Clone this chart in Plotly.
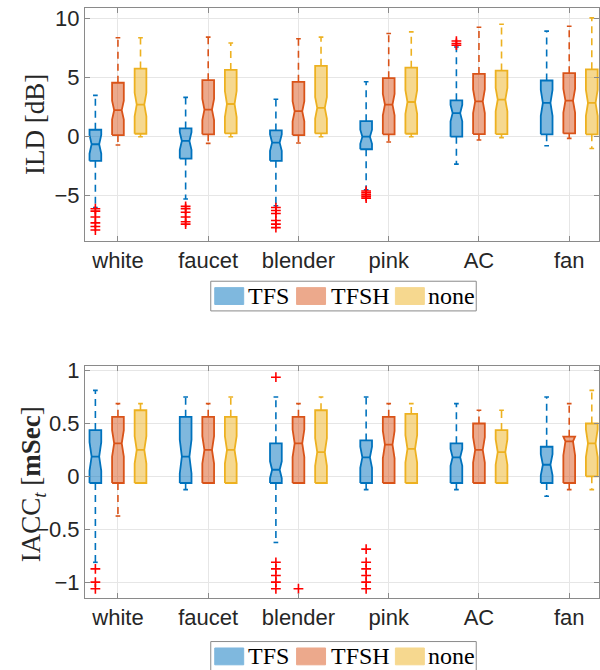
import plotly.graph_objects as go

categories = ["white", "faucet", "blender", "pink", "AC", "fan"]
series_names = ["TFS", "TFSH", "none"]

# ---------------- ILD [dB] (rows: TFS, TFSH, none) ----------------
ild_whisker_low = [
    [-6.0, -5.27, -5.85, -4.5, -2.32, -0.76],
    [-0.7, -0.56, -0.53, -0.45, -0.28, -0.14],
    [0.0, 0.0, 0.0, 0.0, -0.08, -1.0],
]
ild_q1 = [
    [-2.04, -1.85, -2.04, -1.06, 0.0, 0.2],
    [0.14, 0.2, 0.14, 0.2, 0.22, 0.28],
    [0.25, 0.28, 0.28, 0.25, 0.22, 0.2],
]
ild_median = [
    [-0.64, -0.36, -0.5, 0.0, 2.0, 2.86],
    [2.25, 2.3, 2.16, 2.72, 3.0, 3.05],
    [2.72, 2.77, 2.44, 2.94, 3.14, 2.86],
]
ild_q3 = [
    [0.59, 0.7, 0.53, 1.32, 3.08, 4.76],
    [4.57, 4.79, 4.65, 4.96, 5.32, 5.38],
    [5.77, 5.66, 6.0, 5.85, 5.6, 5.71],
]
ild_whisker_high = [
    [3.5, 3.33, 3.17, 4.65, 7.6, 8.94],
    [8.38, 8.43, 8.29, 8.74, 9.27, 9.36],
    [8.38, 7.93, 8.43, 8.88, 9.52, 10.06],
]
ild_notch = [
    [0.8, 0.75, 0.7, 0.6, 0.7, 1.1],
    [0.8, 0.9, 0.85, 0.9, 1.0, 1.0],
    [1.0, 1.1, 0.9, 1.0, 1.0, 1.1],
]
ild_outliers_tfs = [
    [-6.1, -6.3, -6.8, -7.3, -7.6, -7.9],
    [-5.9, -6.1, -6.4, -6.8, -7.2, -7.4],
    [-6.0, -6.25, -6.5, -7.1, -7.4, -7.7],
    [-4.6, -4.75, -4.9, -5.05, -5.2],
    [7.75, 7.9, 8.1],
    [],
]
ild_outliers_tfsh = [[], [], [], [], [], []]

# ---------------- IACC_t [mSec] (rows: TFS, TFSH, none) ----------------
iacc_whisker_low = [
    [-0.8125, -0.125, -0.625, -0.125, -0.125, -0.1875],
    [-0.375, -0.0625, -0.0625, -0.0625, -0.0625, -0.125],
    [-0.0625, -0.0625, -0.0625, -0.0625, -0.0625, -0.125],
]
iacc_q1 = [
    [-0.0625, -0.0625, -0.0625, -0.0625, -0.0625, -0.0625],
    [-0.0625, -0.0625, -0.0625, -0.0625, -0.0625, -0.0625],
    [-0.0625, -0.0625, -0.0625, -0.0625, -0.0625, 0.0],
]
iacc_median = [
    [0.1875, 0.1875, 0.0625, 0.18, 0.18, 0.11],
    [0.3125, 0.25, 0.3125, 0.30, 0.25, 0.33],
    [0.25, 0.25, 0.23, 0.26, 0.23, 0.3125],
]
iacc_q3 = [
    [0.4375, 0.5625, 0.3125, 0.34, 0.3125, 0.28],
    [0.5625, 0.5625, 0.5625, 0.5625, 0.5, 0.375],
    [0.625, 0.5625, 0.625, 0.59, 0.4375, 0.5],
]
iacc_whisker_high = [
    [0.8125, 0.75, 0.75, 0.75, 0.6875, 0.75],
    [0.6875, 0.6875, 0.6875, 0.6875, 0.625, 0.6875],
    [0.6875, 0.75, 0.75, 0.6875, 0.625, 0.8125],
]
iacc_notch = [
    [0.135, 0.16, 0.08, 0.1, 0.08, 0.1],
    [0.125, 0.13, 0.13, 0.13, 0.12, 0.13],
    [0.13, 0.13, 0.13, 0.13, 0.12, 0.13],
]
iacc_outliers_tfs = [
    [-0.875, -1.0, -1.0625],
    [],
    [0.9375, -0.8125, -0.875, -0.9375, -1.0, -1.0625],
    [-0.6875, -0.8125, -0.875, -0.9375, -1.0, -1.0625],
    [],
    [],
]
iacc_outliers_tfsh = [[], [], [-1.0625], [], [], []]

# ---------------- styling ----------------
line_colors = ["#0072BD", "#D95319", "#EDB120"]
fill_colors = ["rgba(0,114,189,0.5)", "rgba(217,83,25,0.5)", "rgba(237,177,32,0.5)"]
legend_fill = ["#7FB8DE", "#ECA98C", "#F6D88F"]
offsets = [-0.25, 0.0, 0.25]
HW = 0.065      # box half width (x units)
TW = 0.042      # half width at notch tip
CW = 0.026      # cap half width
TICK_FONT = dict(family="Liberation Sans, Arial, sans-serif", size=22, color="#262626")
SERIF = "Liberation Serif, Times New Roman, serif"

fig = go.Figure()


def add_panel(xa, ya, wlo, q1, med, q3, whi, notch, outl_tfs, outl_tfsh):
    for s in range(3):
        bx, by, mx, my, wx, wy, cx, cy = [], [], [], [], [], [], [], []
        for c in range(len(categories)):
            x = c + 1 + offsets[s]
            a, m, b, n = q1[s][c], med[s][c], q3[s][c], notch[s][c]
            lo = max(m - n, a)
            hi = min(m + n, b)
            bx += [x - HW, x - HW, x - TW, x - HW, x - HW, x + HW, x + HW, x + TW, x + HW, x + HW, x - HW, None]
            by += [a, lo, m, hi, b, b, hi, m, lo, a, a, None]
            mx += [x - TW, x + TW, None]
            my += [m, m, None]
            wx += [x, x, None, x, x, None]
            wy += [b, whi[s][c], None, a, wlo[s][c], None]
            cx += [x - CW, x + CW, None, x - CW, x + CW, None]
            cy += [whi[s][c], whi[s][c], None, wlo[s][c], wlo[s][c], None]
        fig.add_trace(go.Scatter(x=wx, y=wy, mode="lines", xaxis=xa, yaxis=ya, showlegend=False,
                                 line=dict(color=line_colors[s], width=1.6, dash="7px,5px"), hoverinfo="skip"))
        fig.add_trace(go.Scatter(x=cx, y=cy, mode="lines", xaxis=xa, yaxis=ya, showlegend=False,
                                 line=dict(color=line_colors[s], width=1.6), hoverinfo="skip"))
        fig.add_trace(go.Scatter(x=bx, y=by, mode="lines", fill="toself", fillcolor=fill_colors[s],
                                 xaxis=xa, yaxis=ya, showlegend=False, name=series_names[s],
                                 line=dict(color=line_colors[s], width=1.8)))
        fig.add_trace(go.Scatter(x=mx, y=my, mode="lines", xaxis=xa, yaxis=ya, showlegend=False,
                                 line=dict(color=line_colors[s], width=1.8), hoverinfo="skip"))
    ox, oy = [], []
    for s, outl in [(0, outl_tfs), (1, outl_tfsh)]:
        for c, vals in enumerate(outl):
            for v in vals:
                ox.append(c + 1 + offsets[s])
                oy.append(v)
    fig.add_trace(go.Scatter(x=ox, y=oy, mode="markers", xaxis=xa, yaxis=ya, showlegend=False,
                             marker=dict(symbol="cross-thin", size=7, color="red",
                                         line=dict(color="red", width=1.6))))


add_panel("x", "y", ild_whisker_low, ild_q1, ild_median, ild_q3, ild_whisker_high, ild_notch,
          ild_outliers_tfs, ild_outliers_tfsh)
add_panel("x2", "y2", iacc_whisker_low, iacc_q1, iacc_median, iacc_q3, iacc_whisker_high, iacc_notch,
          iacc_outliers_tfs, iacc_outliers_tfsh)

xcommon = dict(range=[0.635, 6.33], tickmode="array", tickvals=list(range(1, 7)), ticktext=categories,
               showgrid=True, gridcolor="#e6e6e6", gridwidth=1, zeroline=False,
               showline=True, linecolor="#8a8a8a", linewidth=1, mirror="ticks",
               ticks="inside", ticklen=5, tickcolor="#8a8a8a", tickfont=TICK_FONT)
ycommon = dict(showgrid=True, gridcolor="#e6e6e6", gridwidth=1, zeroline=False,
               showline=True, linecolor="#8a8a8a", linewidth=1, mirror="ticks",
               ticks="inside", ticklen=5, tickcolor="#8a8a8a", tickfont=TICK_FONT)

PLOT_L, PLOT_W, PLOT_T, PLOT_H = 85, 515, 2, 596


def px(v):
    return (v - PLOT_L) / PLOT_W


def py(v):
    return (PLOT_T + PLOT_H - v) / PLOT_H


fig.update_layout(
    width=600, height=670,
    margin=dict(l=PLOT_L, r=600 - PLOT_L - PLOT_W, t=PLOT_T, b=670 - PLOT_T - PLOT_H),
    paper_bgcolor="white", plot_bgcolor="white",
    showlegend=False,
    xaxis=dict(xcommon, anchor="y"),
    yaxis=dict(ycommon, domain=[py(237), 1], range=[-8.8, 10.9], tickvals=[-5, 0, 5, 10]),
    xaxis2=dict(xcommon, anchor="y2"),
    yaxis2=dict(ycommon, domain=[0, py(364)], range=[-1.15, 1.04], tickvals=[-1, -0.5, 0, 0.5, 1]),
)

shapes, annotations = [], []
# y-axis titles
annotations.append(dict(xref="paper", yref="paper", x=px(35), y=py(120), text="ILD [dB]", textangle=-90,
                        showarrow=False, xanchor="center", yanchor="middle",
                        font=dict(family=SERIF, size=27, color="#262626")))
annotations.append(dict(xref="paper", yref="paper", x=px(33), y=py(483),
                        text="IACC<sub><i>t</i></sub> [<b>mSec</b>]", textangle=-90,
                        showarrow=False, xanchor="center", yanchor="middle",
                        font=dict(family=SERIF, size=27, color="#262626")))

# legends (one per panel)
for (top, bot) in [(278, 308), (642, 672)]:
    shapes.append(dict(type="rect", xref="paper", yref="paper", x0=px(211), x1=px(477),
                       y0=py(bot), y1=py(top), line=dict(color="#8a8a8a", width=1), fillcolor="white"))
    patch_x = [(215, 244), (297, 326), (396, 425)]
    text_x = [246, 329, 427]
    cy = top + 15
    for s in range(3):
        shapes.append(dict(type="rect", xref="paper", yref="paper", x0=px(patch_x[s][0]), x1=px(patch_x[s][1]),
                           y0=py(cy + 8.5), y1=py(cy - 8.5), line=dict(color=legend_fill[s], width=1),
                           fillcolor=legend_fill[s]))
        annotations.append(dict(xref="paper", yref="paper", x=px(text_x[s]), y=py(cy), text=series_names[s],
                                showarrow=False, xanchor="left", yanchor="middle",
                                font=dict(family=SERIF, size=24, color="#000000")))
fig.update_layout(shapes=shapes, annotations=annotations)

fig.write_html("out.html", config={"displayModeBar": False},
               post_script="document.body.style.margin='0';document.body.style.overflow='hidden';")
